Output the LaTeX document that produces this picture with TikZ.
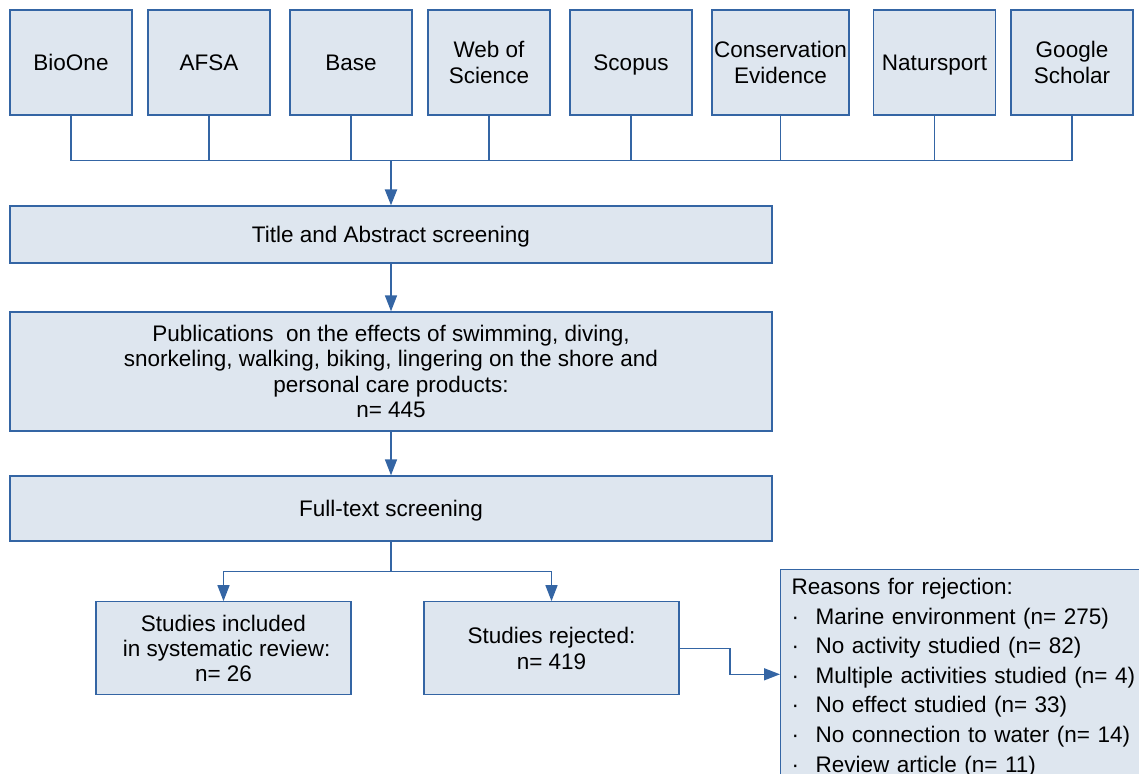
\documentclass[tikz,border=0pt]{standalone}
\usepackage{fontspec}
\setmainfont{Liberation Sans}
\usetikzlibrary{arrows.meta}
\definecolor{boxfill}{HTML}{DEE6EF}
\definecolor{boxline}{HTML}{3465A4}
\newcommand\bxs{\rule[-4.2pt]{0pt}{24.5pt}}
\begin{document}
\begin{tikzpicture}[x=1pt,y=-1pt,
  box/.style={draw=boxline, fill=boxfill, line width=1.3pt, inner sep=0pt, align=center,
    font=\fontsize{22.5}{25.3}\selectfont, text=black},
  srcbox/.style={box, minimum height=105pt},
  widebox/.style={box, minimum width=762pt},
  link/.style={draw=boxline, line width=1.5pt},
  arr/.style={link, -{Triangle[length=16pt,width=12pt]}}]
\useasboundingbox (0,0) rectangle (1139,773);

% source boxes
\node[srcbox, minimum width=122pt] (bioone) at (71,62.5) {\bxs BioOne};
\node[srcbox, minimum width=122pt] (afsa) at (209,62.5) {\bxs AFSA};
\node[srcbox, minimum width=122pt] (base) at (351,62.5) {\bxs Base};
\node[srcbox, minimum width=122pt] (wos) at (489,62.5) {\bxs Web of\\Science\bxs};
\node[srcbox, minimum width=122pt] (scopus) at (631,62.5) {\bxs Scopus};
\node[srcbox, minimum width=137pt] (cons) at (780.5,62.5) {\bxs Conservation\\Evidence\bxs};
\node[srcbox, minimum width=122pt] (nat) at (934.5,62.5) {\bxs Natursport};
\node[srcbox, minimum width=122pt] (google) at (1072,62.5) {\bxs Google\\Scholar\bxs};

\coordinate (bus) at (391,160.5);
\foreach \n in {bioone,afsa,base,wos,scopus,cons,nat,google}
  \draw[link] (\n.south) |- (bus);

% main flow
\node[widebox, minimum height=57pt] (title) at (391,234.5) {\bxs Title and Abstract screening};
\node[widebox, minimum height=119pt] (pubs) at (391,371.5)
  {\bxs Publications\ \ on the effects of swimming, diving,\\
   snorkeling, walking, biking, lingering on the shore and\\
   personal care products:\\
   n= 445\bxs};
\node[widebox, minimum height=65pt] (full) at (391,508.5) {\bxs Full-text screening};

\draw[arr, line width=2.4pt] (bus) -- (title.north);
\draw[arr] (title) -- (pubs);
\draw[arr] (pubs) -- (full);

\node[box, minimum width=255pt, minimum height=93pt] (incl) at (223.5,648.3)
  {\bxs Studies included\\\ in systematic review:\\n= 26\bxs};
\node[box, minimum width=255pt, minimum height=93pt] (rej) at (551.5,648.3)
  {\bxs Studies rejected:\\n= 419\bxs};

\coordinate (split) at (391,571.5);
\draw[link] (full.south) -- (split);
\draw[arr] (split) -| (incl.north);
\draw[arr] (split) -| (rej.north);

% reasons
\node[box, anchor=north west, align=left, minimum width=380pt, minimum height=230pt,
  inner xsep=11pt, inner ysep=8.6pt, text width=358pt,
  font=\fontsize{22.5}{29.6}\selectfont] (reasons) at (780,569)
  {Reasons for rejection:\\
   \makebox[24pt][l]{·}Marine environment (n= 275)\\
   \makebox[24pt][l]{·}No activity studied (n= 82)\\
   \makebox[24pt][l]{·}Multiple activities studied (n= 4)\\
   \makebox[24pt][l]{·}No effect studied (n= 33)\\
   \makebox[24pt][l]{·}No connection to water (n= 14)\\
   \makebox[24pt][l]{·}Review article (n= 11)\\
   \strut};
\coordinate (rbend) at (730,674.3);
\draw[arr] (rej.east) -| (rbend) -- (reasons.west |- rbend);
\end{tikzpicture}
\end{document}
